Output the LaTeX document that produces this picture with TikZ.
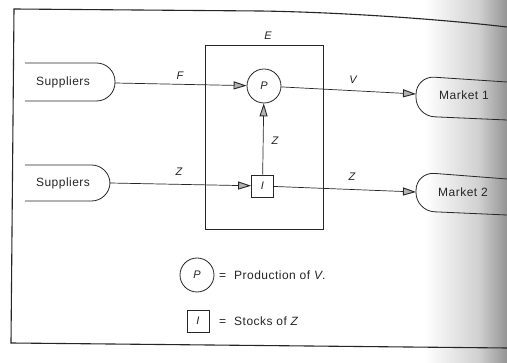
\documentclass[tikz,border=0pt]{standalone}
\usepackage{fontspec}
\setmainfont{Liberation Sans}[LetterSpace=4]
\usetikzlibrary{arrows.meta}
\begin{document}
\begin{tikzpicture}[x=1pt,y=-1pt,
  ink/.style={draw=black!85},
  txt/.style={font=\fontsize{12}{14}\selectfont, text=black!85, inner sep=0pt},
  lbl/.style={font=\fontsize{11}{13}\selectfont\itshape, text=black!85, inner sep=0pt},
  arr/.style={ink, line width=0.7pt, -{Triangle[length=13pt,width=8pt,line width=0.9pt,fill=black!30]}},
  shp/.style={ink, line width=0.8pt, rounded corners=18.5pt},
  circ/.style={circle, ink, line width=0.8pt, minimum size=34pt, inner sep=0pt, font=\fontsize{11}{13}\selectfont\itshape, text=black!85},
  sqr/.style={rectangle, ink, line width=0.8pt, minimum size=22pt, inner sep=0pt, font=\fontsize{11}{13}\selectfont\itshape, text=black!85},
  ebox/.style={rectangle, ink, line width=0.8pt, minimum width=118pt, minimum height=184pt, inner sep=0pt},
]
\fill[white] (0,0) rectangle (507,363);
\useasboundingbox (0,0) rectangle (507,363);
% scanned page shadow at the right
\shade[left color=white, right color=black!18] (425,0) rectangle (478,363);
\shade[left color=black!18, right color=black!42] (478,0) rectangle (507,363);

% outer frame
\draw[ink, line width=1.1pt] (507,27) .. controls (430,18) and (330,12) .. (260,11) -- (14,9) -- (11,343) -- (507,348);

% enterprise box
\node[ebox] (E) at (264,137) {};
\node[lbl] (Elbl) at (268,36) {E};

% suppliers (open on the left)
\draw[shp] (25,63) -- (115,63) -- (115,101) -- (25,101);
\node[txt] (S1) at (63,82) {Suppliers};
\coordinate (S1r) at (115,83);
\draw[shp] (25,165) -- (110,165) -- (110,201) -- (25,201);
\node[txt] (S2) at (63,183) {Suppliers};
\coordinate (S2r) at (110,183);

% markets (open on the right)
\draw[shp] (507,82) -- (416,76) -- (416,116) -- (507,120);
\node[txt] (M1) at (464,95) {Market 1};
\coordinate (M1l) at (416,94);
\draw[shp] (507,179) -- (416,172) -- (416,211) -- (507,215);
\node[txt] (M2) at (463,192) {Market 2};
\coordinate (M2l) at (416,192);

% production and stocks
\node[circ] (P) at (264,86) {P};
\node[sqr] (I) at (262.5,186) {I};

% flows
\draw[arr] (S1r) -- (P);
\node[lbl] (Flbl) at (180,76) {F};
\draw[arr] (P) -- (M1l);
\node[lbl] (Vlbl) at (353,80) {V};
\draw[arr] (I) -- (P);
\node[lbl] (Zv) at (275,141) {Z};
\draw[arr] (S2r) -- (I);
\node[lbl] (Zl) at (179,172) {Z};
\draw[arr] (I) -- (M2l);
\node[lbl] (Zr) at (352,177) {Z};

% legend
\node[circ] (LP) at (197,275) {P};
\node[txt, anchor=west] (LPt) at (219,275) {=\hspace{8pt}Production of \textit{V}.};
\node[sqr] (LI) at (198,321) {I};
\node[txt, anchor=west] (LIt) at (219,321) {=\hspace{8pt}Stocks of \textit{Z}};
\end{tikzpicture}
\end{document}
